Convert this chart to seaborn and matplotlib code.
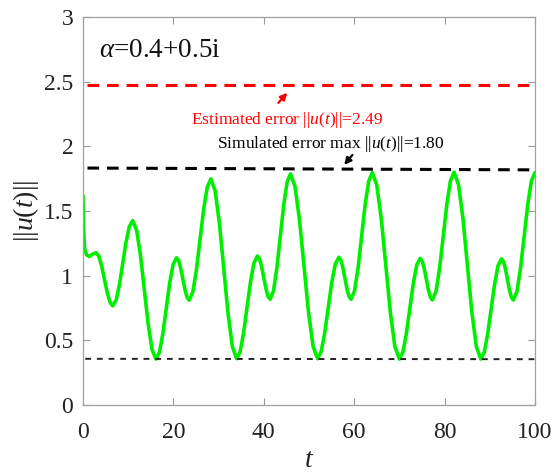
import matplotlib
matplotlib.use("Agg")
import matplotlib.pyplot as plt
import seaborn as sns
import pandas as pd

# ---- data ----
t_vals = [0, 0.15, 0.35, 0.8, 1.4, 2.1, 2.9,
          3.52, 4.13, 4.75, 5.37, 5.98, 6.6,
          7.33, 8.07, 8.8, 9.53, 10.27, 11.0,
          11.86, 12.72, 13.58, 14.43, 15.29, 16.15,
          16.91, 17.67, 18.43, 19.18, 19.94, 20.7,
          21.17, 21.63, 22.1, 22.57, 23.03, 23.5,
          24.3, 25.1, 25.9, 26.7, 27.5, 28.3,
          29.25, 30.2, 31.15, 32.1, 33.05, 34.0,
          34.77, 35.53, 36.3, 37.07, 37.83, 38.6,
          39.07, 39.53, 40.0, 40.47, 40.93, 41.4,
          42.15, 42.9, 43.65, 44.4, 45.15, 45.9,
          46.9, 47.9, 48.9, 49.9, 50.9, 51.9,
          52.68, 53.47, 54.25, 55.03, 55.82, 56.6,
          57.05, 57.5, 57.95, 58.4, 58.85, 59.3,
          60.08, 60.87, 61.65, 62.43, 63.22, 64.0,
          65.0, 66.0, 67.0, 68.0, 69.0, 70.0,
          70.77, 71.53, 72.3, 73.07, 73.83, 74.6,
          75.05, 75.5, 75.95, 76.4, 76.85, 77.3,
          78.1, 78.9, 79.7, 80.5, 81.3, 82.1,
          83.08, 84.07, 85.05, 86.03, 87.02, 88.0,
          88.77, 89.53, 90.3, 91.07, 91.83, 92.6,
          93.03, 93.47, 93.9, 94.33, 94.77, 95.2,
          96.0, 96.8, 97.6, 98.4, 99.2, 100.0]
u_vals = [1.62, 1.35, 1.21, 1.16, 1.148, 1.165, 1.178,
          1.150, 1.075, 0.972, 0.869, 0.794, 0.766,
          0.810, 0.931, 1.096, 1.260, 1.381, 1.425,
          1.353, 1.158, 0.890, 0.623, 0.427, 0.355,
          0.407, 0.551, 0.747, 0.942, 1.086, 1.138,
          1.116, 1.056, 0.974, 0.892, 0.832, 0.810,
          0.873, 1.045, 1.279, 1.514, 1.685, 1.748,
          1.655, 1.401, 1.053, 0.706, 0.451, 0.358,
          0.411, 0.557, 0.755, 0.954, 1.099, 1.152,
          1.130, 1.068, 0.985, 0.901, 0.839, 0.817,
          0.882, 1.060, 1.302, 1.545, 1.722, 1.787,
          1.691, 1.430, 1.073, 0.715, 0.454, 0.358,
          0.411, 0.554, 0.750, 0.946, 1.089, 1.142,
          1.120, 1.061, 0.980, 0.898, 0.839, 0.817,
          0.883, 1.062, 1.307, 1.552, 1.731, 1.797,
          1.700, 1.437, 1.076, 0.716, 0.452, 0.355,
          0.407, 0.550, 0.745, 0.939, 1.082, 1.134,
          1.112, 1.054, 0.973, 0.893, 0.834, 0.812,
          0.878, 1.059, 1.306, 1.553, 1.734, 1.800,
          1.703, 1.439, 1.078, 0.716, 0.452, 0.355,
          0.407, 0.549, 0.743, 0.936, 1.078, 1.130,
          1.109, 1.051, 0.971, 0.892, 0.833, 0.812,
          0.878, 1.058, 1.305, 1.551, 1.731, 1.797]

est_t = [1, 100]
est_u = [2.475, 2.475]
sim_t = [1, 100]
sim_u = [1.832, 1.818]
low_t = [0.5, 100]
low_u = [0.357, 0.354]

x_ticks = [0, 20, 40, 60, 80, 100]
y_ticks = [0, 0.5, 1, 1.5, 2, 2.5, 3]
y_ticklabels = ["0", "0.5", "1", "1.5", "2", "2.5", "3"]

# ---- style ----
sns.set_theme(style="ticks")
plt.rcParams["font.family"] = ["Liberation Serif", "DejaVu Serif"]
plt.rcParams["mathtext.fontset"] = "custom"
plt.rcParams["mathtext.rm"] = "Liberation Serif"
plt.rcParams["mathtext.it"] = "Liberation Serif:italic"
plt.rcParams["mathtext.bf"] = "Liberation Serif:bold"

fig = plt.figure(figsize=(5.55, 4.72), dpi=100)
ax = fig.add_axes([0.1495, 0.142, 0.8145, 0.822])

df = pd.DataFrame({"t": t_vals, "u": u_vals})
sns.lineplot(data=df, x="t", y="u", ax=ax, color="#00ee00", linewidth=2.6,
             estimator=None, sort=False)
ax.lines[-1].set_solid_joinstyle("round")

sns.lineplot(x=est_t, y=est_u, ax=ax, color="#ff0000", linewidth=2.2,
             estimator=None)
ax.lines[-1].set_dashes((3.8, 2.6))
sns.lineplot(x=sim_t, y=sim_u, ax=ax, color="#000000", linewidth=2.2,
             estimator=None)
ax.lines[-1].set_dashes((3.8, 2.6))
sns.lineplot(x=low_t, y=low_u, ax=ax, color="#222222", linewidth=1.4,
             estimator=None)
ax.lines[-1].set_dashes((3.0, 3.0))

ax.set_xlim(0, 100)
ax.set_ylim(0, 3)
ax.set_xticks(x_ticks)
ax.set_yticks(y_ticks)
ax.set_yticklabels(y_ticklabels)
ax.tick_params(direction="in", length=5, width=0.8, color="#999999",
               labelsize=17, labelcolor="#222222", top=True, right=True)
ax.tick_params(axis="x", pad=12)
ax.tick_params(axis="y", pad=7)
for s in ax.spines.values():
    s.set_visible(True)
    s.set_color("#a0a0a0")
    s.set_linewidth(0.9)

ax.set_xlabel(r"$t$", fontsize=20, color="#222222", labelpad=4)
ax.set_ylabel(r"$||u(t)||$", fontsize=20, color="#222222", labelpad=2)

ax.text(3.5, 2.74, r"$\alpha$=0.4+0.5i", fontsize=19.5, color="#111111",
        va="center", ha="left")

ax.annotate("", xy=(45.6, 2.43), xytext=(42.8, 2.32),
            arrowprops=dict(arrowstyle="-|>", color="#ff0000", lw=1.6,
                            mutation_scale=10))
ax.text(45.2, 2.2, r"Estimated error $||u(t)||$=2.49", fontsize=12.5,
        color="#ff0000", ha="center", va="center")

ax.annotate("", xy=(57.4, 1.84), xytext=(60.0, 1.95),
            arrowprops=dict(arrowstyle="-|>", color="#000000", lw=1.6,
                            mutation_scale=10))
ax.text(54.8, 2.02, r"Simulated error max $||u(t)||$=1.80", fontsize=12.5,
        color="#000000", ha="center", va="center")

fig.savefig("out.png", dpi=100)
